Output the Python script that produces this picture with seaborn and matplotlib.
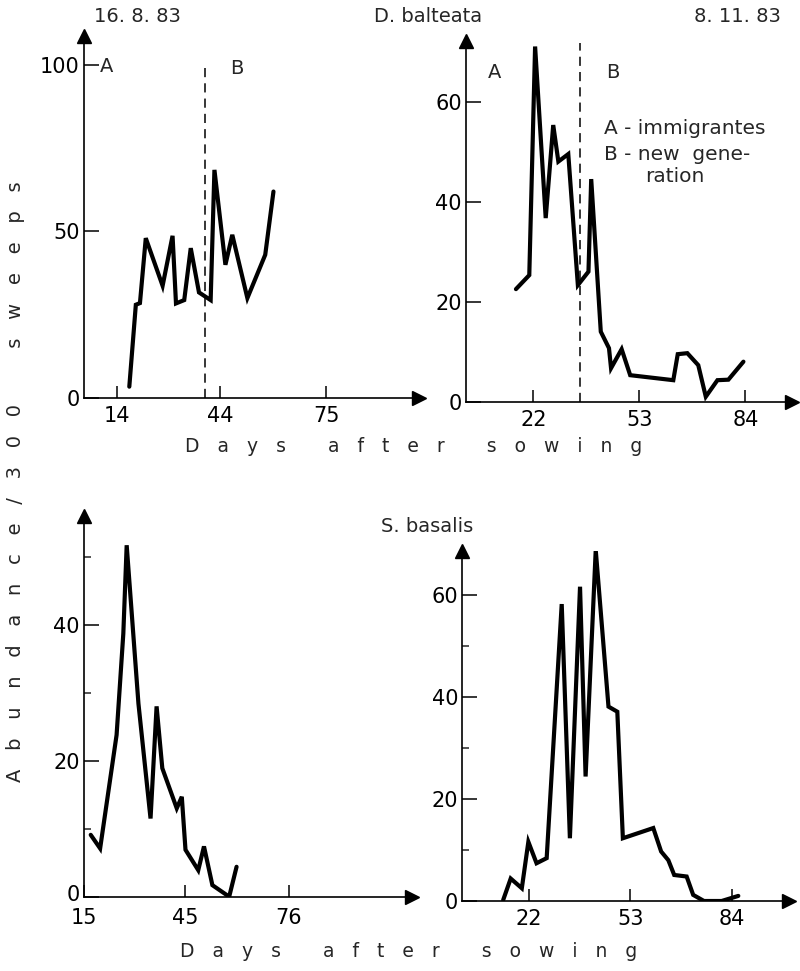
import matplotlib
matplotlib.use("Agg")
import matplotlib.pyplot as plt
import matplotlib.transforms as mtransforms
import seaborn as sns
import pandas as pd

# ---------------- data ----------------
p1_days = [17.6, 19.5, 20.7, 22.4, 27.3, 30.2, 31.2, 33.6, 35.5, 37.9, 41.3, 42.4, 45.6, 47.6, 52.0, 57.2, 59.6]
p1_vals = [3.4, 28, 28.5, 48, 33.7, 48.7, 28.4, 29.4, 45, 31.7, 29.4, 68.5, 40, 49, 30, 43, 62]

p2_days = [16.9, 20.8, 22.5, 25.6, 27.8, 29.3, 32.2, 35.0, 38.1, 38.9, 41.7, 44.1, 44.7, 47.8, 50.3,
           62.9, 64.2, 67.0, 70.2, 72.4, 75.8, 79.0, 83.4]
p2_vals = [22.5, 25.3, 71, 36.7, 55.3, 48, 49.5, 23.3, 26, 44.5, 14, 10.7, 6.7, 10.5, 5.3,
           4.3, 9.5, 9.7, 7.3, 1, 4.3, 4.4, 8]

p3_days = [17.0, 19.8, 24.7, 26.7, 27.7, 31.2, 34.8, 36.6, 38.3, 42.6, 44.1, 45.2, 49.0, 50.7, 53.2, 58.2, 60.4]
p3_vals = [9.1, 7.1, 23.8, 38.7, 51.7, 28.4, 11.5, 28, 18.9, 13, 14.7, 6.9, 3.9, 7.4, 1.7, 0, 4.4]

p4_days = [14.1, 16.4, 19.8, 21.8, 24.3, 27.4, 32.0, 34.5, 37.6, 39.3, 42.4, 46.3, 49.0, 50.7,
           60.0, 62.4, 64.6, 66.4, 70.2, 72.2, 75.5, 80.9, 86.0]
p4_vals = [0.2, 4.4, 2.5, 11.6, 7.4, 8.4, 58.2, 12.3, 61.6, 24.4, 68.8, 38.1, 37.1, 12.3,
           14.3, 9.7, 8, 5.1, 4.8, 1.2, 0, 0, 1]

p1_xticks = [14, 44, 75]
p1_yticks = [0, 50, 100]
p2_xticks = [22, 53, 84]
p2_yticks = [0, 20, 40, 60]
p3_xticks = [15, 45, 76]
p3_yticks = [0, 20, 40]
p3_yminor = [10, 30, 50]
p4_xticks = [22, 53, 84]
p4_yticks = [0, 20, 40, 60]
p4_yminor = [10, 30, 50]

p1_split = 39.7
p2_split = 35.6

# ---------------- style ----------------
sns.set_theme(style="ticks")
plt.rcParams["font.family"] = ["DejaVu Sans"]
plt.rcParams["axes.linewidth"] = 1.2

W, H = 800, 971
fig = plt.figure(figsize=(W / 100, H / 100), dpi=100)
fig.patch.set_facecolor("white")


def rect(l, b, r, t):
    return [l / W, 1 - b / H, (r - l) / W, (b - t) / H]


def fx(x):
    return x / W


def fy(y):
    return 1 - y / H


def make_panel(pos, xlim, ylim, days, vals, xticks, yticks, yminor=None, xpad=6):
    ax = fig.add_axes(rect(*pos))
    ax.set_facecolor("none")
    df = pd.DataFrame({"day": days, "val": vals})
    sns.lineplot(data=df, x="day", y="val", ax=ax, color="black", lw=3.0,
                 sort=False, estimator=None, solid_joinstyle="miter")
    ax.set_xlim(*xlim)
    ax.set_ylim(*ylim)
    ax.set_xticks(xticks)
    ax.set_yticks(yticks)
    if yminor:
        ax.set_yticks(yminor, minor=True)
    ax.tick_params(axis="y", which="major", direction="in", length=11, width=1.1,
                   labelsize=15, pad=3, colors="black")
    ax.tick_params(axis="y", which="minor", direction="in", length=5, width=1.1)
    ax.tick_params(axis="x", which="major", direction="in", length=9, width=1.1,
                   labelsize=15, pad=xpad, colors="black")
    ax.set_xlabel("")
    ax.set_ylabel("")
    for s in ("top", "right"):
        ax.spines[s].set_visible(False)
    for s in ("left", "bottom"):
        ax.spines[s].set_color("black")
        ax.spines[s].set_linewidth(1.2)
    ax.plot([1], [0], marker=">", ms=10, color="black", transform=ax.transAxes, clip_on=False)
    ax.plot([0], [1], marker="^", ms=10, color="black", transform=ax.transAxes, clip_on=False)
    return ax


# panel 1 (top-left)
ax1 = make_panel((84, 398, 419, 36), (4.4, 102.0), (0, 108.7), p1_days, p1_vals, p1_xticks, p1_yticks)
ax1.plot([p1_split, p1_split], [0, 100.5], color="black", lw=1.1, ls=(0, (6, 4)))

# panel 2 (top-right)
ax2 = make_panel((466, 401.7, 792, 41), (2.3, 97.6), (0, 72.1), p2_days, p2_vals, p2_xticks, p2_yticks)
ax2.plot([p2_split, p2_split], [0, 71.7], color="black", lw=1.1, ls=(0, (6, 4)))

# panel 3 (bottom-left)
ax3 = make_panel((84, 896.7, 412, 516), (15, 112.6), (0, 56.0), p3_days, p3_vals, p3_xticks, p3_yticks,
                 p3_yminor, xpad=8)
# lift the corner "0" a little so it sits above the "15"
for lbl in ax3.get_yticklabels():
    if lbl.get_text() == "0":
        lbl.set_transform(lbl.get_transform() + mtransforms.ScaledTranslation(0, 3 / 72, fig.dpi_scale_trans))

# panel 4 (bottom-right)
ax4 = make_panel((462.3, 901, 789, 551), (1.6, 101.5), (0, 68.6), p4_days, p4_vals, p4_xticks, p4_yticks, p4_yminor)

# ---------------- texts ----------------
fig.text(fx(137), fy(17), "16. 8. 83", ha="center", va="center", fontsize=14)
fig.text(fx(428), fy(17), "D. balteata", ha="center", va="center", fontsize=14)
fig.text(fx(737), fy(17), "8. 11. 83", ha="center", va="center", fontsize=14)
fig.text(fx(427), fy(526), "S. basalis", ha="center", va="center", fontsize=14)

fig.text(fx(100), fy(67), "A", ha="left", va="center", fontsize=14)
fig.text(fx(230), fy(68), "B", ha="left", va="center", fontsize=14)
fig.text(fx(488), fy(72), "A", ha="left", va="center", fontsize=14)
fig.text(fx(606), fy(72), "B", ha="left", va="center", fontsize=14)

fig.text(fx(604), fy(128), "A - immigrantes", ha="left", va="center", fontsize=14.5)
fig.text(fx(604), fy(154), "B - new  gene-", ha="left", va="center", fontsize=14.5)
fig.text(fx(645), fy(177), "ration", ha="left", va="center", fontsize=14.5)

xlab = "D   a   y   s       a   f   t   e   r       s   o   w   i   n   g"
fig.text(fx(414), fy(446), xlab, ha="center", va="center", fontsize=13.5)
fig.text(fx(409), fy(951), xlab, ha="center", va="center", fontsize=13.5)

ylab = "A   b   u   n   d   a   n   c   e   /   3   0   0         s   w   e   e   p   s"
fig.text(fx(16), fy(482), ylab, ha="center", va="center", fontsize=14, rotation=90)

fig.savefig("out.png", dpi=100, facecolor="white")
